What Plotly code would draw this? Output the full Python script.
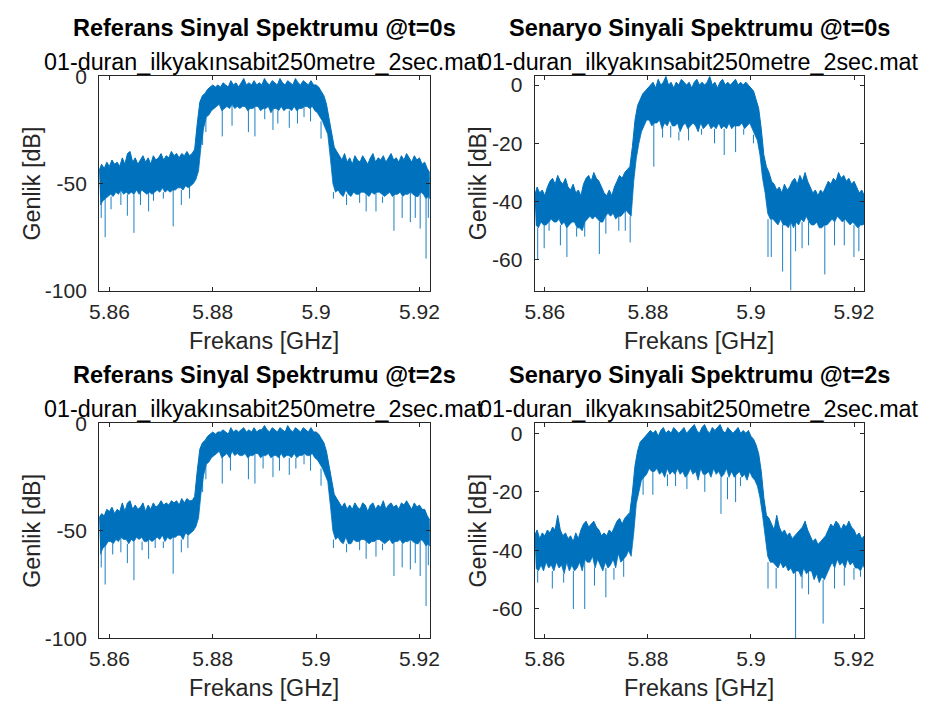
import plotly.graph_objects as go

# ---------------- data ----------------
# frequency bins: 5.858 GHz .. 5.922 GHz, step 0.5 MHz (129 bins)
F_START = 5.858
F_STEP = 0.0005
N_BINS = 129
freq_bins = [round(F_START + F_STEP * k, 4) for k in range(N_BINS)]

x_tickvals = [5.86, 5.88, 5.90, 5.92]
x_ticktext = ["5.86", "5.88", "5.9", "5.92"]
ref_yticks = [0, -50, -100]
ref_yticktext = ["0", "-50", "-100"]
sen_yticks = [0, -20, -40, -60]
sen_yticktext = ["0", "-20", "-40", "-60"]

# per-bin upper edge (hi) and lower edge of the dense band (lo) [dB]
ref0_hi = [-44,-41,-43,-40,-42,-39,-41,-40,-42,-38,-41,-36,-35,-40,-38,-41,-39,-37,-40,-38,
           -41,-37,-39,-38,-36,-39,-37,-38,-35,-37,-36,-38,-36,-37,-35,-37,-36,-34,
           -22,-12,-9,-8,-6,-5,-4,
           -5,-4,-5,-3,-4,-5,-2,-4,-3,-5,-3,-1,-4,-3,-4,-2,-4,-3,-4,-1,-3,-4,-2,-3,-4,-1,
           -3,-4,-2,-3,-4,-1,-3,-4,-2,-3,-4,-2,-4,
           -4,-5,-7,-9,-13,-20,-28,-33,-35,
           -37,-39,-36,-40,-38,-41,-37,-39,-40,-37,-39,-41,-38,-36,-40,-38,-39,-37,-40,-38,
           -36,-39,-38,-40,-37,-39,-36,-38,-40,-37,-39,-38,-41,-40,-43,-45]
ref0_lo = [-60,-58,-57,-56,-55,-56,-54,-55,-53,-55,-54,-55,-54,-55,-53,-55,-53,-54,-55,-54,
           -55,-54,-53,-54,-52,-54,-53,-54,-53,-53,-52,-52,-53,-51,-52,-51,-50,-48,
           -44,-32,-24,-19,-18,-16,-15,
           -14,-13,-16,-15,-14,-15,-13,-15,-14,-15,-14,-14,-16,-15,-15,-14,-14,-16,-15,-15,
           -14,-17,-15,-15,-16,-14,-16,-15,-15,-16,-14,-16,-15,-15,-14,-14,-15,-14,-16,
           -17,-19,-21,-24,-27,-38,-50,-54,-53,
           -55,-56,-53,-55,-56,-54,-55,-55,-54,-54,-55,-56,-54,-55,-54,-54,-55,-56,-55,-54,
           -56,-55,-55,-54,-56,-55,-55,-54,-55,-56,-56,-54,-55,-57,-56,-58]
# thin downward spikes: frequency [GHz] and depth [dB]
ref0_spk_f = [5.85842, 5.85918, 5.86032, 5.86222, 5.86348, 5.86475, 5.86601, 5.86759, 5.86854,
              5.87044, 5.87234, 5.87392, 5.87551, 5.87804, 5.87867,
              5.88184, 5.88373, 5.8869, 5.88816, 5.89006, 5.89165, 5.89259, 5.89481, 5.89639,
              5.89766, 5.89892, 5.90095,
              5.90335, 5.90462, 5.90589, 5.90842, 5.90968, 5.91158, 5.91285, 5.91506, 5.91665,
              5.91823, 5.91918, 5.92013, 5.92127, 5.92171]
ref0_spk_db = [-66, -75, -62, -60, -65, -73, -60, -63, -58, -57, -70, -60, -57, -32, -26,
               -28, -23, -26, -28, -20, -25, -22, -24, -22, -19, -21, -29,
               -57, -55, -60, -59, -63, -63, -59, -72, -66, -68, -66, -71, -85, -66]

sen0_hi = [-38,-35,-37,-36,-38,-35,-33,-32,-34,-31,-33,-34,-32,-35,-36,-34,-37,-36,-38,-34,
           -32,-31,-33,-30,-32,-33,-35,-37,-38,-36,-38,-35,-33,-31,-32,-30,-29,-28,
           -21,-12,-7,-5,-3,-2,
           -1,0,1,-1,2,0,1,3,0,1,-1,1,0,2,1,0,1,-1,1,2,0,1,0,1,3,0,1,-1,1,2,
           0,1,0,1,2,0,1,0,1,0,-1,-2,
           -5,-8,-15,-24,-28,-30,-33,
           -34,-36,-35,-37,-34,-36,-35,-33,-32,-34,-31,-33,-30,-33,-35,-37,-36,-38,-36,-37,
           -35,-33,-34,-32,-33,-30,-32,-31,-33,-32,-34,-33,-35,-37,-36,-38]
sen0_lo = [-48,-49,-47,-48,-48,-47,-46,-47,-47,-46,-48,-47,-49,-48,-47,-47,-49,-49,-50,-47,
           -46,-45,-46,-45,-46,-47,-47,-45,-44,-45,-44,-46,-45,-45,-44,-43,-44,-45,
           -33,-25,-20,-16,-14,-12,
           -12,-14,-13,-13,-12,-15,-13,-14,-12,-14,-14,-13,-16,-14,-13,-15,-14,-13,-14,-16,
           -13,-15,-14,-13,-15,-14,-15,-13,-15,-14,-15,-13,-15,-14,-14,-14,-13,-15,-14,-13,
           -15,-17,
           -19,-24,-32,-37,-44,-46,-46,
           -47,-48,-46,-48,-48,-49,-47,-49,-47,-48,-46,-47,-45,-47,-48,-48,-47,-49,-49,-48,
           -48,-47,-46,-47,-45,-46,-47,-46,-47,-48,-47,-48,-49,-48,-48,-47]
sen0_spk_f = [5.85861, 5.85987, 5.86082, 5.86302, 5.86428, 5.86617, 5.86774, 5.87058, 5.87184,
              5.87435, 5.87561, 5.87656,
              5.88115, 5.88285, 5.88443, 5.88601, 5.88789, 5.89041, 5.89293, 5.89481, 5.89702,
              5.89859, 5.90048,
              5.90331, 5.90394, 5.90614, 5.90772, 5.90866, 5.90992, 5.91118, 5.91433, 5.91622,
              5.91811, 5.91999, 5.92094]
sen0_spk_db = [-60, -56, -50, -55, -59, -52, -52, -58, -51, -50, -50, -54,
               -28, -18, -18, -19, -19, -17, -20, -24, -23, -17, -20,
               -59, -59, -64, -70.5, -57, -56, -55, -65, -55, -55, -59, -57]

ref2_hi = [-44,-42,-43,-40,-41,-39,-42,-40,-41,-37,-41,-37,-36,-40,-38,-40,-39,-37,-41,-38,
           -40,-37,-39,-38,-36,-38,-37,-38,-36,-37,-36,-38,-35,-37,-35,-36,-36,-34,
           -22,-12,-9,-8,-6,-5,-4,
           -5,-4,-4,-3,-4,-5,-2,-4,-3,-4,-3,-2,-4,-3,-4,-2,-4,-3,-3,-1,-3,-4,-2,-3,-4,-2,
           -3,-4,-1,-3,-4,-2,-3,-4,-2,-3,-4,-2,-4,
           -4,-5,-7,-9,-13,-20,-28,-33,-35,
           -37,-39,-37,-40,-38,-40,-37,-39,-40,-37,-38,-41,-38,-37,-40,-38,-39,-36,-40,-38,
           -37,-39,-38,-40,-37,-38,-36,-38,-40,-37,-39,-38,-40,-40,-43,-45]
ref2_lo = [-61,-58,-57,-55,-55,-56,-54,-55,-53,-54,-54,-56,-54,-55,-53,-54,-53,-55,-55,-54,
           -55,-54,-53,-54,-52,-55,-53,-54,-53,-53,-52,-52,-54,-51,-52,-51,-50,-48,
           -44,-32,-24,-19,-18,-16,-15,
           -14,-13,-16,-15,-14,-16,-13,-15,-14,-15,-15,-14,-16,-15,-15,-14,-14,-16,-15,-15,
           -14,-16,-15,-15,-16,-14,-16,-15,-15,-16,-14,-16,-15,-15,-14,-15,-15,-14,-16,
           -17,-19,-21,-24,-27,-38,-50,-54,-53,
           -55,-56,-53,-56,-56,-54,-55,-55,-54,-54,-55,-56,-55,-55,-54,-54,-55,-56,-55,-54,
           -56,-55,-55,-54,-56,-55,-55,-54,-55,-56,-56,-54,-55,-57,-56,-58]
ref2_spk_f = [5.85842, 5.85918, 5.86064, 5.86222, 5.86348, 5.86475, 5.86633, 5.86759, 5.86886,
              5.87044, 5.87234, 5.87392, 5.87519, 5.87804, 5.87867,
              5.88184, 5.88342, 5.8869, 5.88816, 5.88974, 5.89165, 5.89291, 5.89481, 5.89608,
              5.89766, 5.89892, 5.90095,
              5.90335, 5.90462, 5.90589, 5.90842, 5.90968, 5.91158, 5.91285, 5.91506, 5.91665,
              5.91823, 5.91918, 5.92013, 5.92127, 5.92171]
ref2_spk_db = [-67, -75, -61, -60, -65, -73, -59, -63, -58, -58, -70, -60, -58, -32, -26,
               -28, -22, -26, -28, -21, -25, -22, -24, -21, -19, -22, -29,
               -58, -55, -60, -59, -63, -62, -59, -71, -67, -68, -65, -71, -85, -66]

sen2_hi = [-35,-33,-36,-34,-35,-33,-34,-32,-33,-28,-33,-35,-34,-36,-35,-37,-34,-36,-33,-31,
           -30,-32,-31,-30,-32,-33,-35,-34,-35,-33,-34,-32,-30,-29,-31,-29,-28,-27,
           -20,-11,-6,-3,-2,-1,
           0,1,0,1,-1,1,2,0,1,0,2,1,0,1,2,0,1,2,3,1,0,2,3,1,0,2,1,2,3,1,
           0,2,1,0,1,2,0,1,0,1,-1,-2,
           -4,-7,-13,-22,-28,-29,-31,
           -33,-28,-32,-34,-33,-35,-34,-36,-35,-34,-33,-32,-30,-33,-35,-37,-36,-38,-37,-36,
           -35,-33,-31,-32,-30,-31,-33,-31,-32,-30,-32,-33,-35,-34,-36,-35]
sen2_lo = [-46,-47,-45,-47,-44,-46,-45,-47,-44,-46,-45,-48,-44,-47,-45,-47,-46,-44,-47,-43,
           -44,-44,-42,-46,-43,-45,-47,-44,-46,-45,-43,-46,-41,-44,-43,-42,-40,-42,
           -34,-24,-20,-16,-15,-14,
           -12,-13,-13,-12,-14,-13,-15,-12,-14,-13,-14,-12,-14,-13,-15,-14,-12,-14,-13,-16,
           -12,-14,-14,-13,-15,-12,-14,-13,-15,-14,-12,-15,-13,-15,-14,-13,-15,-14,-16,-13,
           -15,-16,
           -18,-22,-28,-35,-42,-44,-44,
           -45,-46,-44,-46,-45,-47,-46,-48,-47,-47,-49,-46,-48,-47,-47,-50,-48,-51,-49,-50,
           -48,-46,-44,-46,-43,-45,-44,-46,-43,-45,-44,-46,-46,-47,-45,-47]
sen2_spk_f = [5.85861, 5.86145, 5.86365, 5.86554, 5.86774, 5.86963, 5.87184, 5.87341, 5.8753,
              5.87907,
              5.88096, 5.88379, 5.88537, 5.88757, 5.89104, 5.89418, 5.89544, 5.89702, 5.89796,
              5.89922,
              5.90331, 5.90489, 5.90866, 5.90992, 5.91118, 5.91401, 5.91622, 5.91811, 5.91999,
              5.92125]
sen2_spk_db = [-51, -53, -51, -60, -60, -52, -56, -50, -49,
               -21,
               -21, -18, -18, -19, -20, -27.5, -22.5, -23.5, -18, -16,
               -53, -53, -70, -53, -55, -65, -53, -52, -50, -49]

titles = ["Referans Sinyal Spektrumu @t=0s", "Senaryo Sinyali Spektrumu @t=0s",
          "Referans Sinyal Spektrumu @t=2s", "Senaryo Sinyali Spektrumu @t=2s"]
subtitle = "01-duran_ilkyakınsabit250metre_2sec.mat"
xlabel = "Frekans [GHz]"
ylabel = "Genlik [dB]"

# ---------------- figure ----------------
W, H = 935, 718
FONT = "Liberation Sans, Arial, Helvetica, sans-serif"
LINE = "#0072BD"
AX = "#262626"

panels = [
    # (hi, lo, spike f, spike dB, x px range, y px range, y range, y ticks, tick text, ylabel offset)
    (ref0_hi, ref0_lo, ref0_spk_f, ref0_spk_db, (91, 429), (66.5, 288), [-100, 0],
     ref_yticks, ref_yticktext, 68.5),
    (sen0_hi, sen0_lo, sen0_spk_f, sen0_spk_db, (536, 873), (66.5, 288), [-70.6, 3],
     sen_yticks, sen_yticktext, 58),
    (ref2_hi, ref2_lo, ref2_spk_f, ref2_spk_db, (91, 429), (425, 647), [-100, 0],
     ref_yticks, ref_yticktext, 68.5),
    (sen2_hi, sen2_lo, sen2_spk_f, sen2_spk_db, (536, 873), (425, 647), [-70, 3.4],
     sen_yticks, sen_yticktext, 58),
]

fig = go.Figure()
layout = dict(
    width=W, height=H, margin=dict(l=0, r=0, t=0, b=0),
    paper_bgcolor="white", plot_bgcolor="white", showlegend=False,
    font=dict(family=FONT, color=AX),
)
annotations = []

for i, (hi, lo, sf, sdb, (x0, x1), (y0, y1), yr, yt, ytt, yl_off) in enumerate(panels):
    n = "" if i == 0 else str(i + 1)
    lo_x = [f + F_STEP / 2 for f in freq_bins]
    # upper edge of the trace
    fig.add_trace(go.Scatter(x=freq_bins, y=hi, mode="lines", xaxis="x" + n, yaxis="y" + n,
                             line=dict(color=LINE, width=1), hoverinfo="skip"))
    # lower edge of the dense band, filled up to the upper edge
    fig.add_trace(go.Scatter(x=lo_x, y=lo, mode="lines", xaxis="x" + n, yaxis="y" + n,
                             fill="tonexty", fillcolor=LINE,
                             line=dict(color=LINE, width=0.8), hoverinfo="skip"))
    # thin downward spikes, from the band bottom of the nearest bin to the spike depth
    spx, spy = [], []
    for f, d in zip(sf, sdb):
        k = min(range(N_BINS), key=lambda j: abs(freq_bins[j] - f))
        spx += [f, f, None]
        spy += [lo[k], d, None]
    fig.add_trace(go.Scatter(x=spx, y=spy, mode="lines", xaxis="x" + n, yaxis="y" + n,
                             line=dict(color=LINE, width=0.9), hoverinfo="skip",
                             connectgaps=False))
    common = dict(showline=True, linecolor=AX, linewidth=1, mirror="ticks",
                  ticks="inside", ticklen=4, tickcolor=AX, showgrid=False,
                  zeroline=False, tickfont=dict(size=21, color=AX, family=FONT))
    layout["xaxis" + n] = dict(domain=[x0 / W, x1 / W], range=[5.858, 5.922],
                               anchor="y" + n, tickvals=x_tickvals, ticktext=x_ticktext,
                               ticklabelstandoff=2, **common)
    layout["yaxis" + n] = dict(domain=[1 - y1 / H, 1 - y0 / H], range=yr,
                               anchor="x" + n, tickvals=yt, ticktext=ytt,
                               ticklabelstandoff=7, **common)
    cx = (x0 + x1) / 2
    # bold title and file-name subtitle
    annotations.append(dict(text="<b>" + titles[i] + "</b>", x=cx / W, y=1 - (y0 - 49.5) / H,
                            xref="paper", yref="paper", showarrow=False,
                            xanchor="center", yanchor="middle",
                            font=dict(size=23.5, color="black", family=FONT)))
    annotations.append(dict(text=subtitle, x=cx / W, y=1 - (y0 - 14.5) / H,
                            xref="paper", yref="paper", showarrow=False,
                            xanchor="center", yanchor="middle",
                            font=dict(size=23.3, color="black", family=FONT)))
    # axis labels
    annotations.append(dict(text=xlabel, x=cx / W, y=1 - (y1 + 51.5) / H,
                            xref="paper", yref="paper", showarrow=False,
                            xanchor="center", yanchor="middle",
                            font=dict(size=23.3, color=AX, family=FONT)))
    annotations.append(dict(text=ylabel, x=(x0 - yl_off) / W, y=1 - ((y0 + y1) / 2) / H,
                            xref="paper", yref="paper", showarrow=False, textangle=-90,
                            xanchor="center", yanchor="middle",
                            font=dict(size=23.3, color=AX, family=FONT)))

layout["annotations"] = annotations
fig.update_layout(**layout)
fig.write_html("out.html")
